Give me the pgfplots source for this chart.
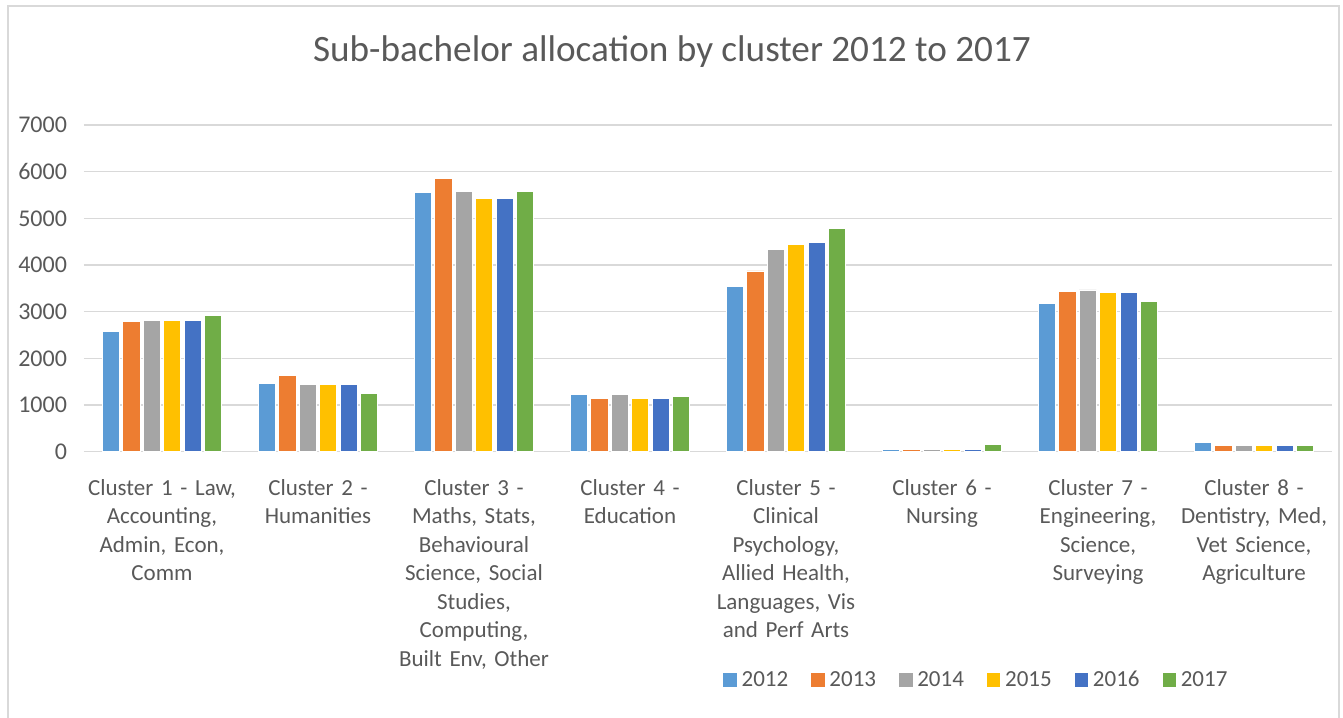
\documentclass[border=0pt]{standalone}
\usepackage{pgfplots}
\pgfplotsset{compat=1.18}
\usepackage{fontspec}
\setmainfont{Carlito}
\definecolor{c12}{HTML}{5B9BD5}
\definecolor{c13}{HTML}{ED7D31}
\definecolor{c14}{HTML}{A5A5A5}
\definecolor{c15}{HTML}{FFC000}
\definecolor{c16}{HTML}{4472C4}
\definecolor{c17}{HTML}{70AD47}
\definecolor{txt}{HTML}{595959}
\definecolor{grd}{HTML}{D9D9D9}
\begin{document}
\begin{tikzpicture}[x=0.5pt,y=0.5pt]
\useasboundingbox (0,0) rectangle (1343,-717);
\begin{scope}
\clip (0,0) rectangle (1343,-717);
\draw[grd, line width=1pt] (8,-6) rectangle (1339,-730);
\end{scope}
\node[txt, font=\fontsize{18.6pt}{22pt}\selectfont] at (672,-52) {Sub-bachelor allocation by cluster 2012 to 2017};
\begin{axis}[
  at={(42pt,-225.85pt)}, anchor=south west,
  scale only axis, width=624pt, height=163.35pt,
  ymin=0, ymax=7000, ytick={0,1000,...,7000},
  xmin=-0.5, xmax=7.5,
  xtick={0,...,7},
  xticklabels={
    {Cluster 1 - Law,\\Accounting,\\Admin, Econ,\\Comm},
    {Cluster 2 -\\Humanities},
    {Cluster 3 -\\Maths, Stats,\\Behavioural\\Science, Social\\Studies,\\Computing,\\Built Env, Other},
    {Cluster 4 -\\Education},
    {Cluster 5 -\\Clinical\\Psychology,\\Allied Health,\\Languages, Vis\\and Perf Arts},
    {Cluster 6 -\\Nursing},
    {Cluster 7 -\\Engineering,\\Science,\\Surveying},
    {Cluster 8 -\\Dentistry, Med,\\Vet Science,\\Agriculture}},
  xticklabel style={align=center, text width=82pt, font=\fontsize{11.5pt}{14.25pt}\selectfont, text=txt, anchor=north, yshift=-6pt},
  yticklabel style={font=\fontsize{12pt}{14pt}\selectfont, text=txt, xshift=-5pt},
  /pgf/number format/assume math mode=true,
  /pgf/number format/set thousands separator={},
  axis line style={draw=none},
  tick style={draw=none},
  ymajorgrids, grid style={grd, line width=0.75pt},
  ybar=1.6pt, bar width=8.6pt,
  every axis plot/.append style={draw=white, line width=0.4pt},
  legend style={at={(0.7155,-0.699)}, anchor=center, draw=none, legend columns=6,
    font=\fontsize{11.5pt}{14pt}\selectfont, text=txt,
    /tikz/every even column/.append style={column sep=9pt}},
  legend image code/.code={\fill[#1] (0pt,-3.6pt) rectangle (7.2pt,3.6pt);},
]
\addplot[fill=c12] coordinates {(0,2580) (1,1472) (2,5550) (3,1228) (4,3542) (5,45) (6,3186) (7,193)};
\addplot[fill=c13] coordinates {(0,2794) (1,1637) (2,5850) (3,1150) (4,3872) (5,45) (6,3436) (7,135)};
\addplot[fill=c14] coordinates {(0,2815) (1,1444) (2,5578) (3,1228) (4,4335) (5,45) (6,3465) (7,135)};
\addplot[fill=c15] coordinates {(0,2815) (1,1444) (2,5436) (3,1150) (4,4450) (5,45) (6,3407) (7,135)};
\addplot[fill=c16] coordinates {(0,2815) (1,1444) (2,5436) (3,1150) (4,4485) (5,45) (6,3407) (7,135)};
\addplot[fill=c17] coordinates {(0,2922) (1,1251) (2,5578) (3,1185) (4,4785) (5,165) (6,3215) (7,135)};
\legend{2012,2013,2014,2015,2016,2017}
\end{axis}
\end{tikzpicture}
\end{document}
